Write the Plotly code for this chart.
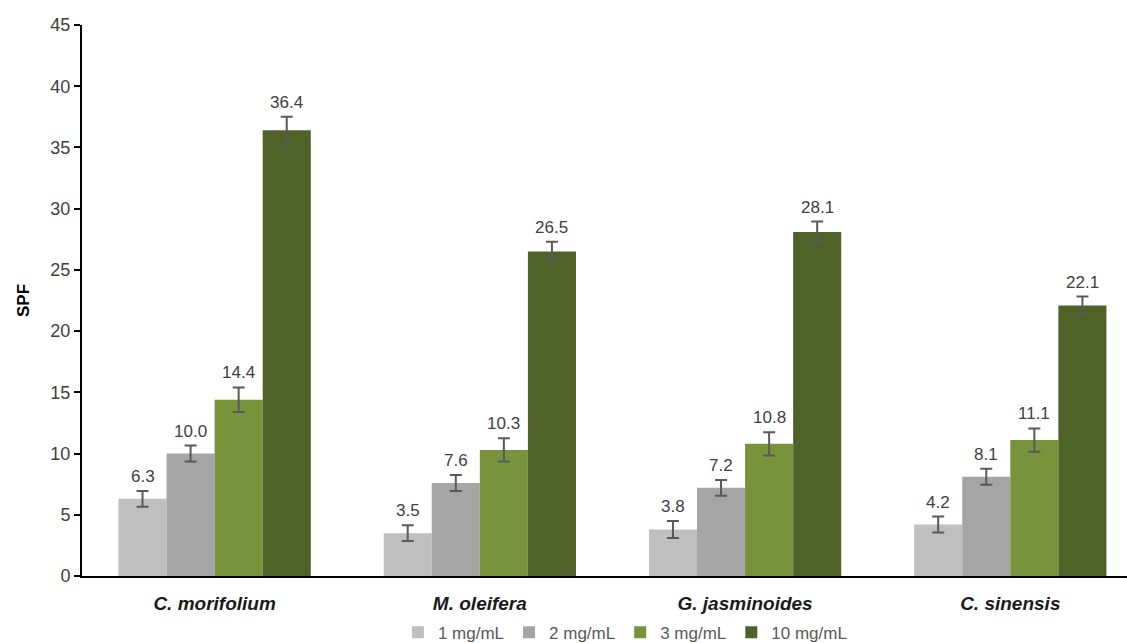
import plotly.graph_objects as go

# SPF of plant extracts at four concentrations
species = ["C. morifolium", "M. oleifera", "G. jasminoides", "C. sinensis"]
concentrations = ["1 mg/mL", "2 mg/mL", "3 mg/mL", "10 mg/mL"]

spf_1 = [6.3, 3.5, 3.8, 4.2]
spf_2 = [10.0, 7.6, 7.2, 8.1]
spf_3 = [14.4, 10.3, 10.8, 11.1]
spf_10 = [36.4, 26.5, 28.1, 22.1]

err_1 = [0.65, 0.65, 0.7, 0.65]
err_2 = [0.65, 0.65, 0.65, 0.65]
err_3 = [1.0, 0.95, 0.95, 0.95]
err_10 = [1.1, 0.8, 0.85, 0.72]

colors = ["#BFBFBF", "#A5A5A5", "#77933C", "#4F6228"]

series = [spf_1, spf_2, spf_3, spf_10]
errors = [err_1, err_2, err_3, err_10]

BARGAP = 0.275
FONT = "Liberation Sans, Arial, sans-serif"

fig = go.Figure()
for name, vals, errs, col in zip(concentrations, series, errors, colors):
    fig.add_trace(go.Bar(
        x=species, y=vals, name=name,
        marker=dict(color=col, line=dict(width=0)),
        error_y=dict(type="data", array=errs, visible=True,
                     color="#595959", thickness=2, width=6),
    ))

# value labels above each error bar, placed in category units
bar_w = (1 - BARGAP) / len(series)
annotations = []
for j, (vals, errs) in enumerate(zip(series, errors)):
    for i, (v, e) in enumerate(zip(vals, errs)):
        annotations.append(dict(
            x=i + (j - (len(series) - 1) / 2) * bar_w, y=v + e,
            xref="x", yref="y", text=f"{v:.1f}", showarrow=False,
            yanchor="bottom", yshift=3,
            font=dict(family=FONT, size=17, color="#404040"),
        ))

fig.update_layout(
    width=1127, height=643,
    margin=dict(l=82, r=0, t=25, b=67, autoexpand=False),
    paper_bgcolor="white", plot_bgcolor="white",
    barmode="group", bargap=BARGAP, bargroupgap=0,
    font=dict(family=FONT, color="#404040"),
    annotations=annotations,
    showlegend=True,
    legend=dict(
        orientation="h", x=0.52, xanchor="center",
        yref="container", y=0.016, yanchor="middle",
        font=dict(family=FONT, size=17, color="#595959"),
        itemwidth=30, traceorder="normal",
        bgcolor="rgba(0,0,0,0)",
    ),
    xaxis=dict(
        type="category", range=[-0.5, 3.44], automargin=False,
        showline=True, linecolor="black", linewidth=2,
        ticks="", showgrid=False, zeroline=False,
        tickfont=dict(family=FONT, size=19, color="#1a1a1a",
                      weight="bold", style="italic"),
        ticklabelstandoff=9,
    ),
    yaxis=dict(
        range=[0, 45], dtick=5, automargin=False,
        showline=True, linecolor="black", linewidth=2,
        ticks="outside", ticklen=6, tickwidth=1.5, tickcolor="black",
        showgrid=False, zeroline=False,
        tickfont=dict(family=FONT, size=18, color="#404040"),
        title=dict(text="SPF", standoff=16,
                   font=dict(family=FONT, size=17, color="black", weight="bold")),
    ),
)

fig.write_html("out.html")
